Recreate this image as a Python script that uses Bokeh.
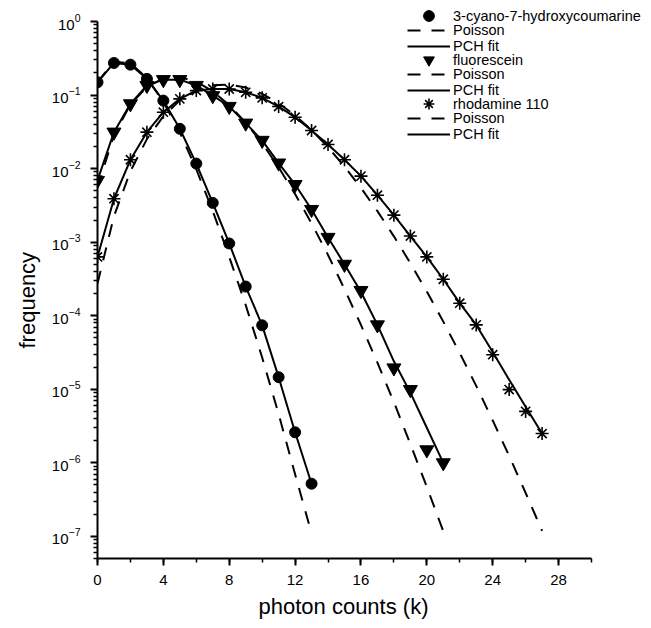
from bokeh.plotting import figure
from bokeh.models import Range1d, FixedTicker, LogTickFormatter, Legend, LegendItem, Title
from bokeh.embed import file_html
from bokeh.resources import INLINE

FONT = "Liberation Sans"

# ---- data ----
k_coumarine = list(range(0, 14))
coumarine_data = [0.149, 0.273, 0.259, 0.166, 0.084, 0.0348, 0.0117, 3.42e-3,
                  9.6e-4, 2.49e-4, 7.4e-5, 1.46e-5, 2.6e-6, 5.2e-7]
coumarine_fit = [0.149, 0.273, 0.259, 0.166, 0.084, 0.0348, 0.0117, 3.42e-3,
                 9.6e-4, 2.49e-4, 7.4e-5, 1.46e-5, 2.6e-6, 5.2e-7]
coumarine_poisson = [0.150, 0.284, 0.270, 0.171, 0.081, 0.031, 9.8e-3, 2.65e-3,
                     6.3e-4, 1.40e-4, 2.7e-5, 4.6e-6, 7.0e-7, 1.1e-7]

k_fluorescein = list(range(0, 22))
fluorescein_data = [6.9e-3, 0.0313, 0.076, 0.135, 0.162, 0.162, 0.135, 0.098,
                    0.070, 0.0415, 0.0242, 0.0119, 6.07e-3, 2.78e-3, 1.16e-3,
                    5.0e-4, 2.2e-4, 7.5e-5, 1.95e-5, 9.9e-6, 1.5e-6, 1.0e-6]
fluorescein_fit = [6.9e-3, 0.0313, 0.076, 0.135, 0.162, 0.162, 0.135, 0.098,
                   0.070, 0.0415, 0.0242, 0.0119, 6.07e-3, 2.78e-3, 1.16e-3,
                   5.0e-4, 2.1e-4, 7.5e-5, 2.4e-5, 9.0e-6, 3.0e-6, 1.0e-6]
fluorescein_poisson = [5.5e-3, 0.0287, 0.0746, 0.129, 0.168, 0.175, 0.152, 0.1125,
                       0.073, 0.0423, 0.022, 0.0104, 4.5e-3, 1.8e-3, 6.7e-4,
                       2.3e-4, 7.5e-5, 2.3e-5, 6.7e-6, 1.8e-6, 4.7e-7, 1.17e-7]

k_rhodamine = list(range(0, 28))
rhodamine_data = [6.3e-4, 3.9e-3, 0.0132, 0.0313, 0.0585, 0.0888, 0.115, 0.121,
                  0.121, 0.109, 0.0916, 0.0698, 0.050, 0.033, 0.0213, 0.0132,
                  7.9e-3, 4.35e-3, 2.33e-3, 1.21e-3, 6.3e-4, 3.13e-4, 1.48e-4,
                  7.5e-5, 2.95e-5, 9.9e-6, 5.0e-6, 2.5e-6]
rhodamine_fit = [6.3e-4, 3.9e-3, 0.0132, 0.0313, 0.0585, 0.0888, 0.115, 0.121,
                 0.121, 0.109, 0.0916, 0.0698, 0.050, 0.033, 0.0213, 0.0132,
                 7.9e-3, 4.35e-3, 2.33e-3, 1.21e-3, 6.3e-4, 3.13e-4, 1.48e-4,
                 7.5e-5, 3.2e-5, 1.35e-5, 5.8e-6, 2.5e-6]
rhodamine_poisson = [2.74e-4, 2.25e-3, 9.21e-3, 0.0252, 0.0516, 0.0847, 0.1157,
                     0.1355, 0.1389, 0.1266, 0.1038, 0.0774, 0.0529, 0.0334,
                     0.0195, 0.0107, 5.47e-3, 2.64e-3, 1.20e-3, 5.19e-4, 2.13e-4,
                     8.31e-5, 3.10e-5, 1.11e-5, 3.77e-6, 1.24e-6, 3.90e-7, 1.19e-7]

series_names = ["3-cyano-7-hydroxycoumarine", "fluorescein", "rhodamine 110"]
x_ticks = [0, 4, 8, 12, 16, 20, 24, 28]
x_minor_ticks = list(range(0, 31, 2))
x_bounds = (0, 30)
y_ticks = [1e-7, 1e-6, 1e-5, 1e-4, 1e-3, 1e-2, 1e-1, 1e0]
y_minor_ticks = [m * t / 10 for t in y_ticks for m in range(2, 10)]
y_bounds = (5e-8, 1.0)
x_title = "photon counts (k)"
y_title = "frequency"

# The frame is extended above 10^0 and right of 30 so that the legend
# (which sits partly outside the axes box) is not clipped; the axes themselves
# are limited to their bounds.
p = figure(frame_width=548, frame_height=558,
           x_range=Range1d(0, 33.28), y_range=Range1d(5e-8, 1.93),
           y_axis_type="log", output_backend="svg", toolbar_location=None,
           min_border_left=97, min_border_top=0, min_border_right=0,
           min_border_bottom=66)
p.outline_line_color = None
p.xgrid.grid_line_color = None
p.ygrid.grid_line_color = None
p.background_fill_color = "white"
p.border_fill_color = "white"

p.xaxis.ticker = FixedTicker(ticks=x_ticks, minor_ticks=x_minor_ticks)
p.yaxis.ticker = FixedTicker(ticks=y_ticks, minor_ticks=y_minor_ticks)
p.yaxis.formatter = LogTickFormatter()
p.xaxis.bounds = x_bounds
p.yaxis.bounds = y_bounds

for ax in (p.xaxis[0], p.yaxis[0]):
    ax.axis_line_width = 2
    ax.axis_line_color = "black"
    ax.major_tick_line_width = 2
    ax.major_tick_line_color = "black"
    ax.minor_tick_line_width = 1.5
    ax.minor_tick_line_color = "black"
    ax.major_tick_out = 7
    ax.major_tick_in = 0
    ax.minor_tick_out = 4
    ax.minor_tick_in = 0
    ax.major_label_text_font = FONT
    ax.major_label_text_font_size = "15px"
    ax.major_label_text_color = "black"

p.xaxis.major_label_standoff = 9
p.yaxis.major_label_standoff = 10

# axis titles as Title annotations so that they can be centred on the axes'
# bounds rather than on the (enlarged) frame
p.add_layout(Title(text=x_title, align="left", offset=161, standoff=8,
                   text_font=FONT, text_font_size="22px",
                   text_font_style="normal", text_color="black"), "below")
p.add_layout(Title(text=y_title, align="left", offset=210, standoff=18,
                   text_font=FONT, text_font_size="22px",
                   text_font_style="normal", text_color="black"), "left")

DASH = "13 11"
marker_items = []
line_groups = []
sets = [
    (k_coumarine, coumarine_data, coumarine_fit, coumarine_poisson, "circle", 11),
    (k_fluorescein, fluorescein_data, fluorescein_fit, fluorescein_poisson, "inverted_triangle", 14),
    (k_rhodamine, rhodamine_data, rhodamine_fit, rhodamine_poisson, "asterisk", 13),
]
for name, (ks, data, fit, pois, marker, size) in zip(series_names, sets):
    r_pois = p.line(ks, pois, line_color="black", line_width=2, line_dash=DASH)
    r_fit = p.line(ks, fit, line_color="black", line_width=2)
    r_pts = p.scatter(ks, data, marker=marker, size=size, fill_color="black",
                      line_color="black", line_width=1.6 if marker == "asterisk" else 1)
    marker_items.append(LegendItem(label=name, renderers=[r_pts]))
    line_groups.append([LegendItem(label="Poisson", renderers=[r_pois]),
                        LegendItem(label="PCH fit", renderers=[r_fit])])

common = dict(padding=0, margin=0, glyph_width=43, label_standoff=3,
              border_line_color=None, background_fill_alpha=0,
              label_text_font=FONT, label_text_font_size="14.5px",
              label_text_color="black")

# marker rows (taller glyph box so that the legend markers are drawn larger)
p.add_layout(Legend(items=marker_items, location=(310, 441), spacing=17,
                    glyph_height=27, label_height=27, **common))
# Poisson / PCH fit rows under each marker row
for grp, ybot in zip(line_groups, [504, 460, 416]):
    p.add_layout(Legend(items=grp, location=(310, ybot), spacing=-2,
                        glyph_height=14, label_height=14, **common))

open("out.html", "w").write(file_html(p, INLINE))
